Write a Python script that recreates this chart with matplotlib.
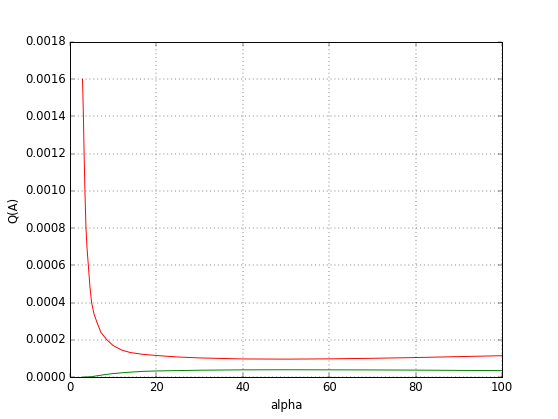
import matplotlib
matplotlib.use("Agg")
import matplotlib.pyplot as plt

# values
alpha_red = [2.95, 3.16, 3.32, 3.51, 3.75, 4.0, 4.3, 4.65, 5.05, 5.6, 6.2, 7.2, 8.6,
             10, 12, 14, 17, 20, 25, 30, 40, 50, 60, 70, 80, 90, 100]
q_red = [0.00160, 0.00140, 0.00120, 0.00100, 0.00080, 0.00069, 0.00060, 0.00049,
         0.00040, 0.00034, 0.00030, 0.00024, 0.00020, 0.000170, 0.000145, 0.000132,
         0.000122, 0.000116, 0.000108, 0.000103, 0.0000975, 0.0000965, 0.000098,
         0.000101, 0.000105, 0.000110, 0.000115]

alpha_green = [2.95, 5, 6, 8, 10, 13, 17, 20, 30, 40, 50, 60, 70, 80, 90, 100]
q_green = [0.0, 0.000002, 0.000006, 0.000013, 0.000019, 0.000025, 0.000031, 0.000033,
           0.000037, 0.000039, 0.0000395, 0.000039, 0.0000385, 0.0000375, 0.000036,
           0.000035]

plt.style.use("classic")
fig = plt.figure(figsize=(558 / 70, 419 / 70), dpi=70, facecolor="white")
ax = fig.add_subplot(111)

ax.plot(alpha_red, q_red, "r-")
ax.plot(alpha_green, q_green, "g-")

ax.set_xlim(0, 100)
ax.set_ylim(0, 0.0018)
ax.set_xlabel("alpha")
ax.set_ylabel("Q(A)")
ax.grid(True)

fig.savefig("out.png", dpi=70, facecolor="white")
